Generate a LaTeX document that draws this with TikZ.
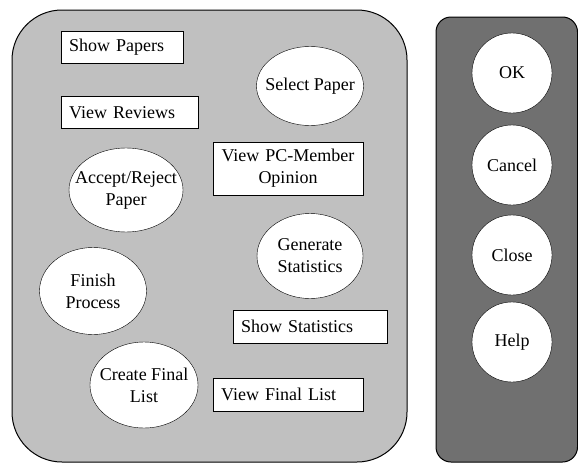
\documentclass[tikz,border=0pt]{standalone}
\usepackage{fontspec}
\setmainfont{Liberation Serif}
\usetikzlibrary{shapes.geometric}
\definecolor{formgray}{HTML}{C0C0C0}
\definecolor{bargray}{HTML}{707070}

\begin{document}
\begin{tikzpicture}[x=1pt,y=-1pt,
    every node/.style={font=\fontsize{18}{22}\selectfont},
    panel/.style={draw,line width=1pt},
    cmd/.style={draw,fill=white,rectangle,minimum height=32pt,inner xsep=8pt,
      text width=#1,align=left,anchor=west},
    usecase/.style={draw,fill=white,ellipse,inner sep=0pt},
    button/.style={draw,fill=white,circle,minimum size=80pt,inner sep=0pt}
  ]
  \useasboundingbox (0,0) rectangle (578,463);
  % the two panels
  \draw[panel,fill=formgray,rounded corners=50pt] (12,10) rectangle (407,462);
  \draw[panel,fill=bargray,rounded corners=15pt] (436,17) rectangle (577.5,462);
  % commands
  \node[cmd=106pt] (showp) at (61,47) {Show Papers};
  \node[cmd=121pt] (viewrev) at (61,112.5) {View Reviews};
  \node[draw,fill=white,text width=148pt,inner xsep=1pt,align=center,
    minimum height=53pt] (pcop) at (288,168.5) {View PC-Member\\Opinion};
  \node[cmd=138pt,minimum height=33pt] (showst) at (233,326.5) {Show Statistics};
  \node[cmd=134pt,minimum height=33pt] (viewfl) at (213,394.5) {View Final List};
  % use cases
  \node[usecase,minimum width=107pt,minimum height=79pt,
    label={[align=center]center:Select Paper}] (selp) at (310,86) {};
  \node[usecase,minimum width=114pt,minimum height=84pt,
    label={[align=center]center:Accept/Reject\\Paper}] (accrej) at (126,190) {};
  \node[usecase,minimum width=106pt,minimum height=85pt,
    label={[align=center]center:Generate\\Statistics}] (gens) at (310,256) {};
  \node[usecase,minimum width=107pt,minimum height=87pt,
    label={[align=center]center:Finish\\Process}] (finp) at (93,291) {};
  \node[usecase,minimum width=108pt,minimum height=86pt,
    label={[align=center]center:Create Final\\List}] (crfl) at (144,385) {};
  % buttons
  \foreach \y/\t/\n in {73/OK/ok,165/Cancel/cancel,255/Close/close,342/Help/help}
    \node[button] (\n) at (512,\y) {\t};
\end{tikzpicture}
\end{document}
